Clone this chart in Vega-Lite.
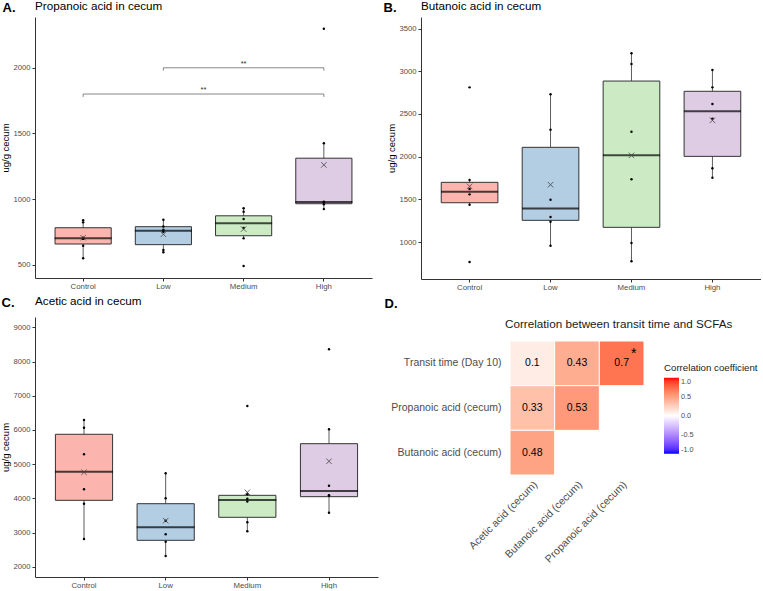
{
  "$schema": "https://vega.github.io/schema/vega-lite/v6.json",
  "background": "white",
  "padding": {"left": 0, "top": 1, "right": 0, "bottom": 0},
  "config": {
    "view": {"stroke": null},
    "font": "Liberation Sans",
    "axis": {"grid": false, "domainColor": "#333333", "domainWidth": 1, "tickColor": "#333333", "tickWidth": 1, "labelColor": "#4D4D4D", "labelFont": "Liberation Sans", "titleFont": "Liberation Sans", "titleFontWeight": "normal", "titleColor": "#000000", "labelOverlap": false},
    "title": {"font": "Liberation Sans", "fontSize": 11.7, "fontWeight": "normal", "anchor": "start", "frame": "group", "color": "#000000"},
    "legend": {"labelFont": "Liberation Sans", "titleFont": "Liberation Sans"}
  },
  "datasets": {
    "boxes": [
      {"panel": "A", "group": "Control", "lower": 548, "q1": 657, "median": 700, "q3": 781, "upper": 839, "mean": 705},
      {"panel": "A", "group": "Low", "lower": 594, "q1": 652, "median": 758, "q3": 789, "upper": 842, "mean": 731},
      {"panel": "A", "group": "Medium", "lower": 700, "q1": 720, "median": 815, "q3": 872, "upper": 931, "mean": 771},
      {"panel": "A", "group": "High", "lower": 923, "q1": 964, "median": 977, "q3": 1311, "upper": 1425, "mean": 1260},
      {"panel": "B", "group": "Control", "lower": 1437, "q1": 1460, "median": 1589, "q3": 1699, "upper": 1726, "mean": 1652},
      {"panel": "B", "group": "Low", "lower": 957, "q1": 1254, "median": 1394, "q3": 2109, "upper": 2730, "mean": 1671},
      {"panel": "B", "group": "Medium", "lower": 774, "q1": 1172, "median": 2015, "q3": 2885, "upper": 3210, "mean": 2015},
      {"panel": "B", "group": "High", "lower": 1753, "q1": 2003, "median": 2530, "q3": 2765, "upper": 3014, "mean": 2425},
      {"panel": "C", "group": "Control", "lower": 2810, "q1": 3942, "median": 4779, "q3": 5873, "upper": 6291, "mean": 4761},
      {"panel": "C", "group": "Low", "lower": 2313, "q1": 2772, "median": 3152, "q3": 3843, "upper": 4731, "mean": 3346},
      {"panel": "C", "group": "Medium", "lower": 3035, "q1": 3445, "median": 3951, "q3": 4088, "upper": 4122, "mean": 4176},
      {"panel": "C", "group": "High", "lower": 3580, "q1": 4048, "median": 4214, "q3": 5598, "upper": 6019, "mean": 5083}
    ],
    "points": [
      {"panel": "A", "group": "Control", "value": 548}, {"panel": "A", "group": "Control", "value": 644}, {"panel": "A", "group": "Control", "value": 696}, {"panel": "A", "group": "Control", "value": 704}, {"panel": "A", "group": "Control", "value": 822}, {"panel": "A", "group": "Control", "value": 839},
      {"panel": "A", "group": "Low", "value": 594}, {"panel": "A", "group": "Low", "value": 612}, {"panel": "A", "group": "Low", "value": 750}, {"panel": "A", "group": "Low", "value": 765}, {"panel": "A", "group": "Low", "value": 790}, {"panel": "A", "group": "Low", "value": 842},
      {"panel": "A", "group": "Medium", "value": 490}, {"panel": "A", "group": "Medium", "value": 700}, {"panel": "A", "group": "Medium", "value": 780}, {"panel": "A", "group": "Medium", "value": 847}, {"panel": "A", "group": "Medium", "value": 903}, {"panel": "A", "group": "Medium", "value": 929},
      {"panel": "A", "group": "High", "value": 923}, {"panel": "A", "group": "High", "value": 960}, {"panel": "A", "group": "High", "value": 975}, {"panel": "A", "group": "High", "value": 980}, {"panel": "A", "group": "High", "value": 1425}, {"panel": "A", "group": "High", "value": 2297},
      {"panel": "B", "group": "Control", "value": 766}, {"panel": "B", "group": "Control", "value": 1437}, {"panel": "B", "group": "Control", "value": 1558}, {"panel": "B", "group": "Control", "value": 1620}, {"panel": "B", "group": "Control", "value": 1726}, {"panel": "B", "group": "Control", "value": 2811},
      {"panel": "B", "group": "Low", "value": 957}, {"panel": "B", "group": "Low", "value": 1238}, {"panel": "B", "group": "Low", "value": 1293}, {"panel": "B", "group": "Low", "value": 1495}, {"panel": "B", "group": "Low", "value": 2315}, {"panel": "B", "group": "Low", "value": 2730},
      {"panel": "B", "group": "Medium", "value": 774}, {"panel": "B", "group": "Medium", "value": 988}, {"panel": "B", "group": "Medium", "value": 1734}, {"panel": "B", "group": "Medium", "value": 2292}, {"panel": "B", "group": "Medium", "value": 3084}, {"panel": "B", "group": "Medium", "value": 3210},
      {"panel": "B", "group": "High", "value": 1753}, {"panel": "B", "group": "High", "value": 1863}, {"panel": "B", "group": "High", "value": 2445}, {"panel": "B", "group": "High", "value": 2616}, {"panel": "B", "group": "High", "value": 2811}, {"panel": "B", "group": "High", "value": 3014},
      {"panel": "C", "group": "Control", "value": 2810}, {"panel": "C", "group": "Control", "value": 3843}, {"panel": "C", "group": "Control", "value": 4264}, {"panel": "C", "group": "Control", "value": 5288}, {"panel": "C", "group": "Control", "value": 6066}, {"panel": "C", "group": "Control", "value": 6291},
      {"panel": "C", "group": "Low", "value": 2313}, {"panel": "C", "group": "Low", "value": 2731}, {"panel": "C", "group": "Low", "value": 2947}, {"panel": "C", "group": "Low", "value": 3346}, {"panel": "C", "group": "Low", "value": 4000}, {"panel": "C", "group": "Low", "value": 4731},
      {"panel": "C", "group": "Medium", "value": 3035}, {"panel": "C", "group": "Medium", "value": 3299}, {"panel": "C", "group": "Medium", "value": 3910}, {"panel": "C", "group": "Medium", "value": 3990}, {"panel": "C", "group": "Medium", "value": 4122}, {"panel": "C", "group": "Medium", "value": 6700},
      {"panel": "C", "group": "High", "value": 3580}, {"panel": "C", "group": "High", "value": 4077}, {"panel": "C", "group": "High", "value": 4093}, {"panel": "C", "group": "High", "value": 4370}, {"panel": "C", "group": "High", "value": 6019}, {"panel": "C", "group": "High", "value": 8359}
    ],
    "brackets": [
      {"from": "Low", "to": "High", "y": 2000},
      {"from": "Control", "to": "High", "y": 1800}
    ],
    "bracketTicks": [
      {"g": "Low", "y": 2000, "y2": 1978}, {"g": "High", "y": 2000, "y2": 1978},
      {"g": "Control", "y": 1800, "y2": 1778}, {"g": "High", "y": 1800, "y2": 1778}
    ],
    "sig": [
      {"at": "Medium", "y": 2000, "label": "**", "place": "center"},
      {"at": "Low", "y": 1800, "label": "**", "place": "edge"}
    ],
    "corr": [
      {"row": "Transit time (Day 10)", "col": "Acetic acid (cecum)", "r": 0.1, "sig": ""},
      {"row": "Transit time (Day 10)", "col": "Butanoic acid (cecum)", "r": 0.43, "sig": ""},
      {"row": "Transit time (Day 10)", "col": "Propanoic acid (cecum)", "r": 0.7, "sig": "*"},
      {"row": "Propanoic acid (cecum)", "col": "Acetic acid (cecum)", "r": 0.33, "sig": ""},
      {"row": "Propanoic acid (cecum)", "col": "Butanoic acid (cecum)", "r": 0.53, "sig": ""},
      {"row": "Butanoic acid (cecum)", "col": "Acetic acid (cecum)", "r": 0.48, "sig": ""}
    ]
  },
  "spacing": 5,
  "vconcat": [
    {
      "spacing": 11,
      "hconcat": [
        {
          "width": 337, "height": 261,
          "title": {"text": "Propanoic acid in cecum", "offset": -12},
          "layer": [
            {"data": {"name": "boxes"}, "transform": [{"filter": "datum.panel === 'A'"}],
             "mark": {"type": "rule", "color": "#333333", "strokeWidth": 0.8},
             "encoding": {
               "x": {"field": "group", "type": "nominal", "bandPosition": 0.5, "scale": {"type": "band", "domain": ["Control", "Low", "Medium", "High"], "paddingInner": 0, "paddingOuter": 0.1},
                     "axis": {"title": "A.", "titleX": -33, "titleY": -271, "titleAlign": "left", "titleBaseline": "middle", "titleAngle": 0, "titleFontSize": 13, "titleFontWeight": "bold", "titleColor": "#000000", "labelAngle": 0, "labelFontSize": 7.8, "labelPadding": 1, "tickSize": 3}},
               "y": {"field": "lower", "type": "quantitative", "title": "ug/g cecum", "scale": {"domain": [398, 2387], "nice": false, "zero": false},
                     "axis": {"values": [500, 1000, 1500, 2000], "format": "d", "labelOverlap": false, "labelFontSize": 7.7, "labelPadding": 2, "tickSize": 3, "titleFontSize": 9.5, "titlePadding": 2}},
               "y2": {"field": "upper"}
             }},
            {"data": {"name": "boxes"}, "transform": [{"filter": "datum.panel === 'A'"}],
             "mark": {"type": "bar", "width": {"band": 0.7}, "stroke": "#333333", "strokeWidth": 1},
             "encoding": {
               "x": {"field": "group", "type": "nominal"},
               "y": {"field": "q1", "type": "quantitative", "title": "ug/g cecum"},
               "y2": {"field": "q3"},
               "color": {"field": "group", "type": "nominal", "scale": {"domain": ["Control", "Low", "Medium", "High"], "range": ["#FBB4AE", "#B3CDE3", "#CCEBC5", "#DECBE4"]}, "legend": null}
             }},
            {"data": {"name": "boxes"}, "transform": [{"filter": "datum.panel === 'A'"}],
             "mark": {"type": "tick", "size": 57, "thickness": 2, "color": "#000000"},
             "encoding": {
               "x": {"field": "group", "type": "nominal"},
               "y": {"field": "median", "type": "quantitative", "title": "ug/g cecum"}
             }},
            {"data": {"name": "points"}, "transform": [{"filter": "datum.panel === 'A'"}],
             "mark": {"type": "circle", "size": 6, "color": "#000000", "opacity": 1},
             "encoding": {
               "x": {"field": "group", "type": "nominal"},
               "y": {"field": "value", "type": "quantitative", "title": "ug/g cecum"}
             }},
            {"data": {"name": "boxes"}, "transform": [{"filter": "datum.panel === 'A'"}],
             "mark": {"type": "point", "shape": "M-1,-1L1,1M-1,1L1,-1", "size": 30, "filled": false, "stroke": "#444444", "strokeWidth": 0.8, "opacity": 1},
             "encoding": {
               "x": {"field": "group", "type": "nominal"},
               "y": {"field": "mean", "type": "quantitative", "title": "ug/g cecum"}
             }},
            {"data": {"name": "brackets"},
             "mark": {"type": "rule", "color": "#555555", "strokeWidth": 0.7},
             "encoding": {
               "x": {"field": "from", "type": "nominal", "bandPosition": 0.5},
               "x2": {"field": "to", "bandPosition": 0.5},
               "y": {"field": "y", "type": "quantitative", "title": "ug/g cecum"}
             }},
            {"data": {"name": "bracketTicks"},
             "mark": {"type": "rule", "color": "#555555", "strokeWidth": 0.7},
             "encoding": {
               "x": {"field": "g", "type": "nominal", "bandPosition": 0.5},
               "y": {"field": "y", "type": "quantitative", "title": "ug/g cecum"},
               "y2": {"field": "y2"}
             }},
            {"data": {"name": "sig"}, "transform": [{"filter": "datum.place === 'center'"}],
             "mark": {"type": "text", "fontSize": 7.5, "color": "#333333", "baseline": "bottom", "dy": 0},
             "encoding": {
               "x": {"field": "at", "type": "nominal", "bandPosition": 0.5},
               "y": {"field": "y", "type": "quantitative", "title": "ug/g cecum"},
               "text": {"field": "label"}
             }},
            {"data": {"name": "sig"}, "transform": [{"filter": "datum.place === 'edge'"}],
             "mark": {"type": "text", "fontSize": 7.5, "color": "#333333", "baseline": "bottom", "dy": 0},
             "encoding": {
               "x": {"field": "at", "type": "nominal", "bandPosition": 1},
               "y": {"field": "y", "type": "quantitative", "title": "ug/g cecum"},
               "text": {"field": "label"}
             }}
          ]
        },
        {
          "width": 340, "height": 262,
          "title": {"text": "Butanoic acid in cecum", "offset": -12},
          "layer": [
            {"data": {"name": "boxes"}, "transform": [{"filter": "datum.panel === 'B'"}],
             "mark": {"type": "rule", "color": "#333333", "strokeWidth": 0.8},
             "encoding": {
               "x": {"field": "group", "type": "nominal", "bandPosition": 0.5, "scale": {"type": "band", "domain": ["Control", "Low", "Medium", "High"], "paddingInner": 0, "paddingOuter": 0.1},
                     "axis": {"title": "B.", "titleX": -38, "titleY": -272, "titleAlign": "left", "titleBaseline": "middle", "titleAngle": 0, "titleFontSize": 13, "titleFontWeight": "bold", "titleColor": "#000000", "labelAngle": 0, "labelFontSize": 7.8, "labelPadding": 1, "tickSize": 3}},
               "y": {"field": "lower", "type": "quantitative", "title": "ug/g cecum", "scale": {"domain": [567, 3635], "nice": false, "zero": false},
                     "axis": {"values": [1000, 1500, 2000, 2500, 3000, 3500], "format": "d", "labelOverlap": false, "labelFontSize": 7.7, "labelPadding": 2, "tickSize": 3, "titleFontSize": 9.5, "titlePadding": 2}},
               "y2": {"field": "upper"}
             }},
            {"data": {"name": "boxes"}, "transform": [{"filter": "datum.panel === 'B'"}],
             "mark": {"type": "bar", "width": {"band": 0.7}, "stroke": "#333333", "strokeWidth": 1},
             "encoding": {
               "x": {"field": "group", "type": "nominal"},
               "y": {"field": "q1", "type": "quantitative", "title": "ug/g cecum"},
               "y2": {"field": "q3"},
               "color": {"field": "group", "type": "nominal", "scale": {"domain": ["Control", "Low", "Medium", "High"], "range": ["#FBB4AE", "#B3CDE3", "#CCEBC5", "#DECBE4"]}, "legend": null}
             }},
            {"data": {"name": "boxes"}, "transform": [{"filter": "datum.panel === 'B'"}],
             "mark": {"type": "tick", "size": 57, "thickness": 2, "color": "#000000"},
             "encoding": {
               "x": {"field": "group", "type": "nominal"},
               "y": {"field": "median", "type": "quantitative", "title": "ug/g cecum"}
             }},
            {"data": {"name": "points"}, "transform": [{"filter": "datum.panel === 'B'"}],
             "mark": {"type": "circle", "size": 6, "color": "#000000", "opacity": 1},
             "encoding": {
               "x": {"field": "group", "type": "nominal"},
               "y": {"field": "value", "type": "quantitative", "title": "ug/g cecum"}
             }},
            {"data": {"name": "boxes"}, "transform": [{"filter": "datum.panel === 'B'"}],
             "mark": {"type": "point", "shape": "M-1,-1L1,1M-1,1L1,-1", "size": 30, "filled": false, "stroke": "#444444", "strokeWidth": 0.8, "opacity": 1},
             "encoding": {
               "x": {"field": "group", "type": "nominal"},
               "y": {"field": "mean", "type": "quantitative", "title": "ug/g cecum"}
             }}
          ]
        }
      ]
    },
    {
      "spacing": 6,
      "hconcat": [
        {
          "width": 343, "height": 260,
          "title": {"text": "Acetic acid in cecum", "offset": -12},
          "layer": [
            {"data": {"name": "boxes"}, "transform": [{"filter": "datum.panel === 'C'"}],
             "mark": {"type": "rule", "color": "#333333", "strokeWidth": 0.8},
             "encoding": {
               "x": {"field": "group", "type": "nominal", "bandPosition": 0.5, "scale": {"type": "band", "domain": ["Control", "Low", "Medium", "High"], "paddingInner": 0, "paddingOuter": 0.1},
                     "axis": {"title": "C.", "titleX": -34, "titleY": -275, "titleAlign": "left", "titleBaseline": "middle", "titleAngle": 0, "titleFontSize": 13, "titleFontWeight": "bold", "titleColor": "#000000", "labelAngle": 0, "labelFontSize": 7.8, "labelPadding": 1, "tickSize": 3}},
               "y": {"field": "lower", "type": "quantitative", "title": "ug/g cecum", "scale": {"domain": [1699, 9303], "nice": false, "zero": false},
                     "axis": {"values": [2000, 3000, 4000, 5000, 6000, 7000, 8000, 9000], "tickCount": 8, "format": "d", "labelOverlap": false, "labelFontSize": 7.7, "labelPadding": 2, "tickSize": 3, "titleFontSize": 9.5, "titlePadding": 2}},
               "y2": {"field": "upper"}
             }},
            {"data": {"name": "boxes"}, "transform": [{"filter": "datum.panel === 'C'"}],
             "mark": {"type": "bar", "width": {"band": 0.7}, "stroke": "#333333", "strokeWidth": 1},
             "encoding": {
               "x": {"field": "group", "type": "nominal"},
               "y": {"field": "q1", "type": "quantitative", "title": "ug/g cecum",
                     "axis": {"values": [2000, 3000, 4000, 5000, 6000, 7000, 8000, 9000], "tickCount": 8, "format": "d", "labelOverlap": false, "labelFontSize": 7.7, "labelPadding": 2, "tickSize": 3, "titleFontSize": 9.5, "titlePadding": 2}},
               "y2": {"field": "q3"},
               "color": {"field": "group", "type": "nominal", "scale": {"domain": ["Control", "Low", "Medium", "High"], "range": ["#FBB4AE", "#B3CDE3", "#CCEBC5", "#DECBE4"]}, "legend": null}
             }},
            {"data": {"name": "boxes"}, "transform": [{"filter": "datum.panel === 'C'"}],
             "mark": {"type": "tick", "size": 58, "thickness": 2, "color": "#000000"},
             "encoding": {
               "x": {"field": "group", "type": "nominal"},
               "y": {"field": "median", "type": "quantitative", "title": "ug/g cecum",
                     "axis": {"values": [2000, 3000, 4000, 5000, 6000, 7000, 8000, 9000], "tickCount": 8, "format": "d", "labelOverlap": false, "labelFontSize": 7.7, "labelPadding": 2, "tickSize": 3, "titleFontSize": 9.5, "titlePadding": 2}}
             }},
            {"data": {"name": "points"}, "transform": [{"filter": "datum.panel === 'C'"}],
             "mark": {"type": "circle", "size": 6, "color": "#000000", "opacity": 1},
             "encoding": {
               "x": {"field": "group", "type": "nominal"},
               "y": {"field": "value", "type": "quantitative", "title": "ug/g cecum",
                     "axis": {"values": [2000, 3000, 4000, 5000, 6000, 7000, 8000, 9000], "tickCount": 8, "format": "d", "labelOverlap": false, "labelFontSize": 7.7, "labelPadding": 2, "tickSize": 3, "titleFontSize": 9.5, "titlePadding": 2}}
             }},
            {"data": {"name": "boxes"}, "transform": [{"filter": "datum.panel === 'C'"}],
             "mark": {"type": "point", "shape": "M-1,-1L1,1M-1,1L1,-1", "size": 30, "filled": false, "stroke": "#444444", "strokeWidth": 0.8, "opacity": 1},
             "encoding": {
               "x": {"field": "group", "type": "nominal"},
               "y": {"field": "mean", "type": "quantitative", "title": "ug/g cecum",
                     "axis": {"values": [2000, 3000, 4000, 5000, 6000, 7000, 8000, 9000], "tickCount": 8, "format": "d", "labelOverlap": false, "labelFontSize": 7.7, "labelPadding": 2, "tickSize": 3, "titleFontSize": 9.5, "titlePadding": 2}}
             }}
          ]
        },
        {
          "width": 134, "height": 158,
          "title": {"text": "Correlation between transit time and SCFAs", "offset": -34, "dx": -5, "color": "#1a1a1a"},
          "data": {"name": "corr"},
          "encoding": {
            "x": {"field": "col", "type": "nominal", "scale": {"type": "band", "domain": ["Acetic acid (cecum)", "Butanoic acid (cecum)", "Propanoic acid (cecum)"], "paddingInner": 0, "paddingOuter": 0},
                  "axis": {"domain": false, "ticks": false, "labelAngle": -45, "labelAlign": "right", "labelBaseline": "top", "labelPadding": 4, "labelFontSize": 10.5, "labelLimit": 200, "title": "D.", "titleX": -126, "titleY": -172, "titleAlign": "left", "titleBaseline": "middle", "titleAngle": 0, "titleFontSize": 13, "titleFontWeight": "bold", "titleColor": "#000000"}},
            "y": {"field": "row", "type": "nominal", "scale": {"type": "band", "domain": ["Transit time (Day 10)", "Propanoic acid (cecum)", "Butanoic acid (cecum)"], "range": [24, 158], "paddingInner": 0, "paddingOuter": 0},
                  "axis": {"domain": false, "ticks": false, "labelPadding": 9, "labelFontSize": 10.5, "labelLimit": 200, "title": null}}
          },
          "layer": [
            {"mark": {"type": "rect", "stroke": "white", "strokeWidth": 1},
             "encoding": {
               "color": {"field": "r", "type": "quantitative", "scale": {"domain": [-1, 0, 1], "range": ["#0000FF", "#FFFFFF", "#FF0000"], "interpolate": "lab"},
                         "legend": {"orient": "none", "legendX": 154, "legendY": 46, "title": "Correlation coefficient", "titleFontSize": 9.7, "titleFontWeight": "normal", "titleColor": "#1a1a1a", "titlePadding": 5, "gradientLength": 76, "gradientThickness": 15, "labelFontSize": 7.3, "labelColor": "#4D4D4D", "values": [-1, -0.5, 0, 0.5, 1], "labelExpr": "replace(format(datum.value, '.1f'), '\u2212', '-')", "direction": "vertical", "gradientStrokeWidth": 0}}
             }},
            {"mark": {"type": "text", "fontSize": 10.5, "color": "#000000"},
             "encoding": {"text": {"field": "r", "type": "quantitative", "format": ".2~f"}}},
            {"transform": [{"filter": "datum.sig === '*'"}],
             "mark": {"type": "text", "fontSize": 14, "dx": 12, "dy": -9, "color": "#000000"},
             "encoding": {"text": {"field": "sig"}}}
          ]
        }
      ]
    }
  ]
}
